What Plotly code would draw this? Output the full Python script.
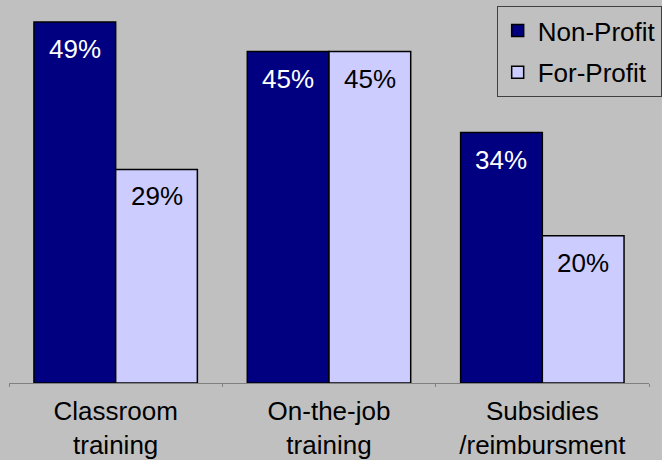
import plotly.graph_objects as go

categories = ["Classroom<br>training", "On-the-job<br>training", "Subsidies<br>/reimbursment"]
non_profit = [49, 45, 34]
for_profit = [29, 45, 20]

NAVY = "#000080"
LAVENDER = "#ccccff"
BG = "#c0c0c0"
FONT = "Arial, Liberation Sans, sans-serif"

fig = go.Figure()
fig.add_trace(go.Bar(x=categories, y=non_profit, name="Non-Profit", legendgroup="np",
                     marker=dict(color=NAVY, line=dict(color="black", width=1.5))))
fig.add_trace(go.Bar(x=categories, y=for_profit, name="For-Profit", legendgroup="fp",
                     marker=dict(color=LAVENDER, line=dict(color="black", width=1.5))))

# value labels sitting just under the top of each bar
for cat, v in zip(categories, non_profit):
    fig.add_annotation(x=cat, y=v, text=f"{v}%", showarrow=False, xshift=-41, yshift=-10,
                       yanchor="top", font=dict(size=26, color="white", family=FONT))
for cat, v in zip(categories, for_profit):
    fig.add_annotation(x=cat, y=v, text=f"{v}%", showarrow=False, xshift=41, yshift=-10,
                       yanchor="top", font=dict(size=26, color="black", family=FONT))

fig.update_layout(
    width=662, height=460,
    barmode="group", bargap=0.234, bargroupgap=0,
    paper_bgcolor=BG, plot_bgcolor=BG,
    margin=dict(l=9, r=11, t=0, b=77),
    font=dict(family=FONT, size=26, color="black"),
    showlegend=True,
    legend=dict(x=0.762, y=0.984, xanchor="left", yanchor="top",
                bgcolor=BG, bordercolor="#404040", borderwidth=1,
                tracegroupgap=5, font=dict(size=26, color="black")),
)
fig.update_xaxes(showline=True, linecolor="#808080", linewidth=1,
                 ticks="outside", tickson="boundaries", ticklen=3, tickcolor="#808080",
                 ticklabelstandoff=5,
                 tickfont=dict(size=26, color="black"), showgrid=False)
fig.update_yaxes(range=[0, 52], visible=False, showgrid=False, zeroline=False)

fig.write_html("out.html", config={"displayModeBar": False},
               post_script="document.body.style.margin='0';")
